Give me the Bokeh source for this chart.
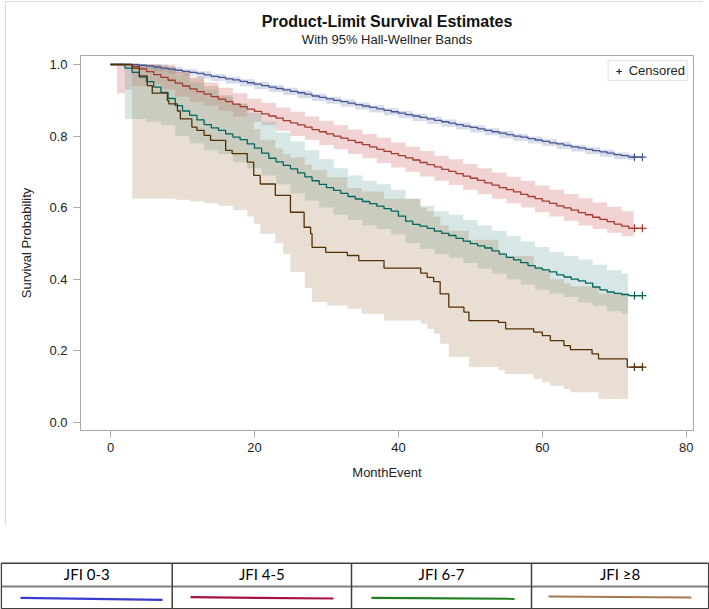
import numpy as np
from bokeh.plotting import figure
from bokeh.models import (Range1d, FixedTicker, PrintfTickFormatter, Title, Legend,
                          LegendItem)
from bokeh.layouts import column
from bokeh.embed import file_html
from bokeh.resources import INLINE
from bokeh.core.properties import value

# ---------------- data ----------------
groups = ["JFI 0-3", "JFI 4-5", "JFI 6-7", "JFI \u22658"]
months = list(range(0, 73))
last_censor = 73.9
censor_times = [72.8, 73.9]

surv_03 = [1.000, 1.000, 1.000, 1.000, 0.998, 0.996, 0.993, 0.990, 0.987, 0.984,
           0.981, 0.978, 0.975, 0.971, 0.967, 0.964, 0.960, 0.957, 0.953, 0.949,
           0.945, 0.941, 0.937, 0.933, 0.929, 0.925, 0.921, 0.917, 0.912, 0.908,
           0.904, 0.900, 0.896, 0.892, 0.888, 0.884, 0.880, 0.876, 0.872, 0.868,
           0.864, 0.860, 0.856, 0.852, 0.848, 0.844, 0.840, 0.836, 0.832, 0.828,
           0.824, 0.820, 0.816, 0.812, 0.808, 0.804, 0.800, 0.797, 0.793, 0.789,
           0.785, 0.781, 0.778, 0.774, 0.770, 0.767, 0.763, 0.759, 0.756, 0.752,
           0.748, 0.745, 0.741]
surv_45 = [1.000, 1.000, 1.000, 0.995, 0.988, 0.980, 0.972, 0.964, 0.956, 0.948,
           0.940, 0.932, 0.924, 0.917, 0.910, 0.903, 0.896, 0.889, 0.882, 0.875,
           0.869, 0.862, 0.856, 0.850, 0.843, 0.837, 0.831, 0.825, 0.818, 0.812,
           0.806, 0.800, 0.794, 0.788, 0.782, 0.776, 0.770, 0.763, 0.757, 0.751,
           0.745, 0.739, 0.733, 0.726, 0.720, 0.714, 0.707, 0.701, 0.695, 0.688,
           0.682, 0.676, 0.669, 0.663, 0.656, 0.650, 0.644, 0.637, 0.631, 0.625,
           0.618, 0.612, 0.605, 0.599, 0.593, 0.586, 0.580, 0.573, 0.567, 0.561,
           0.554, 0.548, 0.542]
surv_67 = [1.000, 1.000, 0.990, 0.978, 0.965, 0.952, 0.937, 0.922, 0.905, 0.885,
           0.870, 0.858, 0.845, 0.832, 0.823, 0.816, 0.806, 0.797, 0.790, 0.778,
           0.766, 0.752, 0.738, 0.728, 0.718, 0.708, 0.697, 0.686, 0.675, 0.665,
           0.656, 0.648, 0.640, 0.631, 0.624, 0.617, 0.611, 0.604, 0.597, 0.590,
           0.576, 0.562, 0.553, 0.548, 0.542, 0.534, 0.528, 0.522, 0.514, 0.506,
           0.499, 0.493, 0.487, 0.479, 0.470, 0.461, 0.454, 0.446, 0.438, 0.431,
           0.426, 0.420, 0.412, 0.406, 0.400, 0.395, 0.389, 0.378, 0.370, 0.364,
           0.360, 0.357, 0.354]
brown_t = [0, 3.0, 4.0, 5.1, 5.8, 7.9, 8.1, 9.3, 9.7, 11.3,
           12.0, 13.0, 13.9, 16.0, 16.9, 19.0, 19.9, 20.8, 22.9, 25.0,
           26.9, 27.8, 28.0, 29.9, 32.9, 34.5, 38.0, 43.1, 44.0, 44.9,
           45.8, 47.0, 49.1, 49.8, 53.9, 54.9, 58.8, 60.0, 61.1, 63.0,
           63.9, 66.9, 67.8, 71.8]
surv_8 = [1.000, 0.990, 0.968, 0.941, 0.920, 0.899, 0.890, 0.870, 0.848, 0.825,
          0.816, 0.802, 0.788, 0.760, 0.751, 0.727, 0.690, 0.666, 0.634, 0.587,
          0.545, 0.527, 0.489, 0.475, 0.466, 0.452, 0.431, 0.417, 0.405, 0.393,
          0.359, 0.322, 0.308, 0.284, 0.279, 0.261, 0.252, 0.242, 0.228, 0.214,
          0.203, 0.191, 0.177, 0.154]

# 95% Hall-Wellner bands (time, lower, upper)
band03_t = [3, 4, 6, 8, 10, 12, 14, 16, 18, 20, 22, 24, 26, 28, 30, 32, 34, 36, 38,
            40, 42, 44, 46, 48, 50, 52, 54, 56, 58, 60, 62, 64, 66, 68, 70, 72, 72.9]
band03_lo = [0.992, 0.987, 0.981, 0.975, 0.969, 0.961, 0.954, 0.947, 0.939, 0.931,
             0.923, 0.915, 0.906, 0.898, 0.890, 0.882, 0.874, 0.866, 0.858, 0.850,
             0.842, 0.834, 0.826, 0.818, 0.810, 0.802, 0.794, 0.787, 0.779, 0.772,
             0.764, 0.757, 0.750, 0.742, 0.735, 0.733, 0.733]
band03_hi = [1.000, 1.000, 0.999, 0.993, 0.987, 0.981, 0.973, 0.966, 0.959, 0.951,
             0.943, 0.935, 0.927, 0.918, 0.910, 0.902, 0.894, 0.886, 0.878, 0.870,
             0.862, 0.854, 0.846, 0.838, 0.830, 0.822, 0.814, 0.806, 0.799, 0.791,
             0.784, 0.776, 0.769, 0.762, 0.754, 0.749, 0.749]
band45_t = [0.9, 2, 3, 5, 7, 9, 11, 13, 15, 17, 19, 21, 23, 25, 27, 29, 31, 33, 35,
            37, 39, 41, 43, 45, 47, 49, 51, 53, 55, 57, 59, 61, 63, 65, 67, 69, 71, 72.7]
band45_lo = [0.920, 0.930, 0.940, 0.945, 0.930, 0.910, 0.895, 0.885, 0.870, 0.855,
             0.840, 0.830, 0.815, 0.800, 0.790, 0.775, 0.763, 0.750, 0.738, 0.725,
             0.712, 0.700, 0.687, 0.675, 0.663, 0.650, 0.637, 0.625, 0.612, 0.600,
             0.587, 0.575, 0.563, 0.550, 0.540, 0.530, 0.520, 0.517]
band45_hi = [1.000, 1.000, 1.000, 1.000, 0.995, 0.980, 0.965, 0.950, 0.935, 0.920,
             0.905, 0.893, 0.880, 0.868, 0.855, 0.843, 0.830, 0.818, 0.806, 0.795,
             0.782, 0.770, 0.758, 0.745, 0.735, 0.722, 0.710, 0.698, 0.686, 0.674,
             0.662, 0.650, 0.638, 0.626, 0.614, 0.602, 0.590, 0.581]
band67_t = [2, 3, 5, 7, 9, 11, 13, 15, 17, 19, 21, 23, 25, 27, 29, 31, 33, 35, 37,
            39, 41, 43, 45, 47, 49, 51, 53, 55, 57, 59, 61, 63, 65, 67, 69, 71, 71.9]
band67_lo = [0.848, 0.848, 0.840, 0.830, 0.800, 0.780, 0.760, 0.750, 0.727, 0.710,
             0.690, 0.665, 0.640, 0.620, 0.600, 0.580, 0.565, 0.550, 0.540, 0.525,
             0.500, 0.485, 0.470, 0.460, 0.445, 0.430, 0.415, 0.400, 0.385, 0.370,
             0.360, 0.350, 0.335, 0.325, 0.310, 0.303, 0.303]
band67_hi = [1.000, 1.000, 1.000, 0.990, 0.970, 0.950, 0.930, 0.910, 0.890, 0.865,
             0.840, 0.810, 0.785, 0.760, 0.735, 0.710, 0.690, 0.675, 0.665, 0.650,
             0.625, 0.605, 0.590, 0.580, 0.565, 0.550, 0.535, 0.520, 0.505, 0.490,
             0.475, 0.465, 0.455, 0.440, 0.425, 0.415, 0.415]
band8_t = [3.0, 9.0, 11.0, 13.0, 15.0, 17.0, 19.0, 19.9, 20.8, 22.9,
           24.0, 25.0, 27.0, 28.0, 30.1, 32.9, 34.9, 38.0, 43.1, 44.0,
           44.9, 45.8, 47.0, 49.8, 53.9, 54.8, 58.8, 60.0, 61.1, 63.0,
           63.9, 67.8, 71.9]
band8_lo = [0.625, 0.622, 0.618, 0.612, 0.605, 0.593, 0.575, 0.555, 0.527, 0.500,
            0.470, 0.420, 0.375, 0.336, 0.326, 0.317, 0.303, 0.284, 0.275, 0.261,
            0.247, 0.219, 0.182, 0.154, 0.145, 0.135, 0.121, 0.112, 0.102, 0.093,
            0.084, 0.065, 0.065]
band8_hi = [1.000, 0.980, 0.960, 0.940, 0.915, 0.890, 0.840, 0.820, 0.790, 0.765,
            0.750, 0.740, 0.720, 0.705, 0.685, 0.655, 0.645, 0.625, 0.600, 0.590,
            0.575, 0.550, 0.535, 0.510, 0.475, 0.465, 0.435, 0.425, 0.400, 0.388,
            0.380, 0.360, 0.350]

x_ticks = [0, 20, 40, 60, 80]
y_ticks = [0.0, 0.2, 0.4, 0.6, 0.8, 1.0]

line_colors = ["#445694", "#A23A2E", "#01665E", "#543005"]
band_colors = ["#6F7EB3", "#D05B5B", "#66A5A0", "#A9865B"]
swatch_colors = ["#3a3ad0", "#a8123f", "#1e7d1e", "#a57a4f"]

FONT = "Liberation Sans"

# ---------------- main chart ----------------
p = figure(width=698, height=524, output_backend="svg", toolbar_location=None,
           title=None, x_range=Range1d(-4.17, 81.0), y_range=Range1d(-0.0232, 1.0252),
           min_border_left=75, min_border_right=10, min_border_top=54, min_border_bottom=95,
           background_fill_color="white", border_fill_color="white")
p.margin = (1, 6, 0, 5)
p.frame_align = False
p.styles = {"outline": "1px solid #cfcfcf", "outline-offset": "-1px"}

sub = Title(text="With 95% Hall-Wellner Bands", align="center", text_font=FONT,
            text_font_size="13px", text_font_style="normal", text_color="#222222",
            standoff=17)
main = Title(text="Product-Limit Survival Estimates", align="center", text_font=FONT,
             text_font_size="16px", text_font_style="bold", text_color="#111111",
             standoff=-16)
p.add_layout(sub, "above")
p.add_layout(main, "above")

p.grid.visible = False
p.outline_line_color = "#a8a8a8"
for ax in (p.xaxis[0], p.yaxis[0]):
    ax.axis_line_color = "#a8a8a8"
    ax.major_tick_line_color = "#a8a8a8"
    ax.major_tick_out = 7
    ax.major_tick_in = 0
    ax.minor_tick_line_color = None
    ax.major_label_text_font = FONT
    ax.major_label_text_font_size = "13px"
    ax.major_label_text_color = "#222222"
    ax.axis_label_text_font = FONT
    ax.axis_label_text_font_size = "13px"
    ax.axis_label_text_font_style = "normal"
    ax.axis_label_text_color = "#222222"
p.xaxis.ticker = FixedTicker(ticks=x_ticks)
p.yaxis.ticker = FixedTicker(ticks=y_ticks)
p.yaxis.formatter = PrintfTickFormatter(format="%.1f")
p.xaxis.axis_label = "MonthEvent"
p.yaxis.axis_label = "Survival Probability"
p.xaxis.major_label_standoff = 5
p.yaxis.major_label_standoff = 6
p.xaxis.axis_label_standoff = 10
p.yaxis.axis_label_standoff = 12

bands = [(band03_t, band03_lo, band03_hi), (band45_t, band45_lo, band45_hi),
         (band67_t, band67_lo, band67_hi), (band8_t, band8_lo, band8_hi)]
for (bt, lo, hi), c in zip(bands, band_colors):
    p.varea_step(x=bt, y1=lo, y2=hi, step_mode="after", fill_color=c, fill_alpha=0.27)

curves = [(months, surv_03), (months, surv_45), (months, surv_67), (brown_t, surv_8)]
for (tt, s), c in zip(curves, line_colors):
    xs = list(tt) + [last_censor]
    ys = list(s) + [s[-1]]
    p.step(x=xs, y=ys, mode="after", line_color=c, line_width=1.3)
    p.scatter(x=censor_times, y=[s[-1]] * len(censor_times), marker="cross",
              size=8, line_color=c, line_width=1.2)

dummy = p.scatter(x=[np.nan], y=[np.nan], marker="cross", size=8,
                  line_color="#222222", line_width=1.2)
legend = Legend(items=[LegendItem(label="Censored", renderers=[dummy])],
                location="top_right", margin=5, padding=2, spacing=0,
                glyph_width=16, glyph_height=14, label_height=14, label_standoff=2,
                label_text_font=FONT, label_text_font_size="13px",
                label_text_color="#222222", border_line_color="#c8c8c8",
                border_line_width=1, background_fill_color="white",
                background_fill_alpha=1.0)
p.add_layout(legend)

# ---------------- group key table ----------------
t = figure(width=709, height=84, output_backend="svg", toolbar_location=None,
           x_range=Range1d(0, 709), y_range=Range1d(609, 525),
           x_axis_location=None, y_axis_location=None, min_border=0,
           min_border_left=0, min_border_right=0, min_border_top=0, min_border_bottom=0,
           background_fill_color="white", border_fill_color="white")
t.frame_align = False
t.grid.grid_line_color = None
t.outline_line_color = None

tbl_top, tbl_mid, tbl_bot = 562.7, 586.0, 608.2
col_edges = [0.8, 171.7, 351.0, 531.0, 708.2]
t.segment(x0=[col_edges[0]] * 2, y0=[tbl_top, tbl_bot], x1=[col_edges[-1]] * 2,
          y1=[tbl_top, tbl_bot], line_color="#404040", line_width=1.5)
t.segment(x0=[col_edges[0]], y0=[tbl_mid], x1=[col_edges[-1]], y1=[tbl_mid],
          line_color="#808080", line_width=2)
t.segment(x0=col_edges, y0=[tbl_top] * 5, x1=col_edges, y1=[tbl_bot] * 5,
          line_color="#404040", line_width=1.5)

centers = [(col_edges[i] + col_edges[i + 1]) / 2 for i in range(4)]
t.text(x=centers, y=[573.5] * 4, text=groups,
       text_align="center", text_baseline="middle", text_font=value("Lato"),
       text_font_size="15px", text_color="#000000")

sw_x0 = [20, 190, 371, 548]
sw_x1 = [162, 333, 514, 691]
sw_y0 = [597.3, 596.7, 597.3, 596.0]
sw_y1 = [599.3, 598.0, 598.3, 597.0]
t.segment(x0=sw_x0, y0=sw_y0, x1=sw_x1, y1=sw_y1, line_color=swatch_colors,
          line_width=2.2)

layout = column(p, t, spacing=0)
open("out.html", "w").write(file_html(layout, INLINE))
